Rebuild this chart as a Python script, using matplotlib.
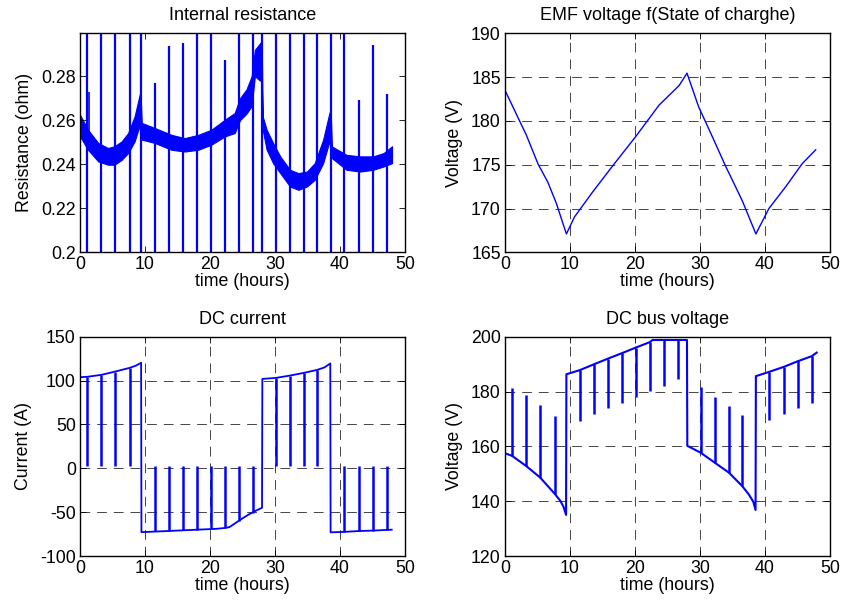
"""
Battery test overview: resistance, EMF, current and bus voltage over 48 h
"""

import matplotlib
matplotlib.use('Agg')
import matplotlib.pyplot as plt
from matplotlib.ticker import FormatStrFormatter

plt.rcParams['font.family'] = ['Liberation Sans', 'DejaVu Sans']
plt.rcParams['font.size'] = 12.8
plt.rcParams['axes.titlesize'] = 13
plt.rcParams['lines.scale_dashes'] = False

BLUE = '#0000ff'

# --- internal resistance: edges of the noisy band, plus the spikes
res_t = [0, 1.2, 2.8, 4.3, 5.3, 6.4, 7.4, 8.4, 9.3, 9.5, 11.5, 14.05, 16.1,
         18.2, 20.2, 22.3, 23.8, 24.6, 25.6, 26.4, 26.9, 27.7, 27.95, 28.1,
         28.7, 29.7, 30.8, 32.3, 33.6, 34.9, 36.1, 37.4, 38.3, 38.55, 38.75,
         41.0, 43.1, 45.1, 46.7, 48.0]
res_lo = [0.2527, 0.2467, 0.2413, 0.2398, 0.2398, 0.2420, 0.2451, 0.2504,
          0.2588, 0.2512, 0.2497, 0.2466, 0.2458, 0.2466, 0.2489, 0.2527,
          0.2542, 0.2600, 0.2630, 0.2664, 0.2800, 0.2780, 0.2800, 0.2558,
          0.2467, 0.2405, 0.2360, 0.2299, 0.2284, 0.2299, 0.2329, 0.2405,
          0.2497, 0.2520, 0.2428, 0.2375, 0.2367, 0.2375, 0.2390, 0.2405]
res_hi = [0.2625, 0.2558, 0.2497, 0.2474, 0.2482, 0.2504, 0.2542, 0.2618,
          0.2732, 0.2588, 0.2565, 0.2534, 0.2519, 0.2534, 0.2557, 0.2603,
          0.2633, 0.2700, 0.2740, 0.2800, 0.2920, 0.2950, 0.2960, 0.2618,
          0.2558, 0.2497, 0.2436, 0.2375, 0.2360, 0.2367, 0.2405, 0.2512,
          0.2625, 0.2650, 0.2481, 0.2443, 0.2436, 0.2436, 0.2451, 0.2482]
res_spike_t = [1.12, 3.28, 5.43, 7.65, 9.43, 11.5, 13.65, 15.85, 18.0, 20.1,
               22.26, 24.46, 26.66, 28.0, 30.1, 32.3, 34.46, 36.5, 38.6,
               40.67, 42.9, 45.1, 47.2]
res_spike_top = [0.31, 0.31, 0.31, 0.31, 0.31, 0.277, 0.2937, 0.295, 0.31,
                 0.31, 0.2876, 0.31, 0.31, 0.31, 0.31, 0.31, 0.31, 0.31, 0.31,
                 0.31, 0.2694, 0.294, 0.272]
res_blip_t = [1.35]
res_blip_lo = [0.252]
res_blip_hi = [0.273]

# --- EMF voltage
emf_t = [0, 3.28, 5.08, 6.6, 7.9, 9.45, 10.7, 13.5, 16.6, 20.1, 23.7, 26.8,
         28.0, 29.8, 31.9, 33.9, 36.5, 38.6, 40.6, 43.2, 45.7, 47.8]
emf_v = [183.5, 178.4, 175.1, 173.0, 170.6, 167.1, 169.05, 171.9, 174.9,
         178.2, 181.8, 184.05, 185.45, 181.6, 178.2, 174.9, 170.9, 167.1,
         170.0, 172.5, 175.1, 176.7]

# --- switching events (hours) where the current is cut for a moment
spike_t = [1.12, 3.28, 5.43, 7.65, 11.5, 13.65, 15.85, 18.0, 20.1, 22.26,
           24.46, 26.66, 30.1, 32.3, 34.46, 36.5, 40.67, 42.9, 45.1, 47.2]

# --- DC current
cur_t = [0, 1.12, 3.28, 5.43, 7.65, 8.6, 9.4, 9.45, 12, 15, 18, 21, 22.3, 23,
         24, 25, 26, 27, 28.0, 28.05, 30.1, 32.3, 34.46, 36.5, 37.6, 38.5,
         38.55, 40.67, 42.9, 45.1, 47.95]
cur_i = [103.8, 104.3, 106.5, 110.3, 114.5, 117, 120.3, -72.8, -72, -71, -70,
         -69, -68, -67, -62, -57, -52.5, -48.5, -45, 101.9, 103, 105.7, 108.8,
         112.2, 115, 119.5, -73, -72.5, -71.5, -71, -70]
cur_spike_base = [104.3, 106.5, 110.3, 114.5, -72, -71.4, -70.8, -70.1, -69.6,
                  -68, -60, -50.5, 103, 105.7, 108.8, 112.2, -72.5, -71.5,
                  -71, -70.2]
cur_spike_tip = [3, 3, 3, 3, 3, 3, 3, 3, 3, 3, 3, 3, 3, 3, 3, 3, 3, 3, 3, 3]

# --- DC bus voltage
vb_t = [0, 1.12, 3.28, 5.43, 7.65, 8.5, 9.0, 9.4, 9.45, 11.5, 13.65, 15.85,
        18.0, 20.1, 22.26, 22.7, 28.0, 28.05, 30.1, 32.3, 34.46, 36.5, 37.5,
        38.2, 38.55, 38.6, 40.67, 42.9, 45.1, 47.2, 47.95]
vb_v = [157.5, 156.5, 152.8, 148.6, 142.7, 140.2, 138.0, 135.0, 186.3, 187.8,
        189.9, 192.0, 194.0, 196.0, 198.0, 198.8, 198.8, 160.2, 157.7, 154.0,
        150.4, 145.5, 142.5, 139.8, 136.8, 185.6, 187.2, 189.0, 191.1, 192.9,
        194.2]
vb_spike_base = [156.5, 152.8, 148.6, 142.7, 187.8, 189.9, 192.0, 194.0,
                 196.0, 198.0, 198.8, 198.8, 157.7, 154.0, 150.4, 145.5,
                 187.2, 189.0, 191.1, 192.9]
vb_spike_tip = [181.4, 178.6, 175.1, 171.1, 169.2, 171.7, 174.1, 175.9,
                178.0, 180.2, 182.0, 184.4, 181.6, 178.1, 174.9, 171.3,
                169.5, 171.9, 174.1, 175.9]

x_ticks = [0, 10, 20, 30, 40, 50]


def style_axes(ax, title, ylabel, ylim, yticks, grid=True, fmt='%g'):
    """
    matlab-like look: boxed axes, inward ticks on all sides, dashed grid
    """
    ax.set_xlim(0, 50)
    ax.set_ylim(*ylim)
    ax.set_xticks(x_ticks)
    ax.set_yticks(yticks)
    ax.yaxis.set_major_formatter(FormatStrFormatter(fmt))
    ax.set_title(title, pad=9.5)
    ax.set_xlabel('time (hours)', labelpad=0)
    ax.set_ylabel(ylabel, labelpad=6)
    ax.tick_params(direction='in', length=4, width=0.6, top=True, right=True,
                   pad=3)
    for sp in ax.spines.values():
        sp.set_linewidth(1.0)
    if grid:
        ax.grid(True, color='0.15', linewidth=0.6, linestyle=(0, (7, 5)))


fig = plt.figure(figsize=(8.44, 6.07), dpi=100)
ax1 = fig.add_axes([0.0948, 0.5843, 0.3851, 0.3608])
ax2 = fig.add_axes([0.5983, 0.5843, 0.3851, 0.3608])
ax3 = fig.add_axes([0.0948, 0.0840, 0.3851, 0.3613])
ax4 = fig.add_axes([0.5983, 0.0840, 0.3851, 0.3613])

# internal resistance
ax1.fill_between(res_t, res_lo, res_hi, color=BLUE, linewidth=0.8)
ax1.vlines(res_spike_t, 0.19, res_spike_top, color=BLUE, linewidth=1.6)
ax1.vlines(res_blip_t, res_blip_lo, res_blip_hi, color=BLUE, linewidth=1.2)
style_axes(ax1, 'Internal resistance', 'Resistance (ohm)', (0.2, 0.2995),
           [0.2, 0.22, 0.24, 0.26, 0.28], grid=False)

# EMF
ax2.plot(emf_t, emf_v, color=BLUE, linewidth=1.0)
style_axes(ax2, 'EMF voltage f(State of charghe)', 'Voltage (V)', (165, 190),
           [165, 170, 175, 180, 185, 190])

# DC current
ax3.plot(cur_t, cur_i, color=BLUE, linewidth=1.3)
ax3.vlines(spike_t, cur_spike_base, cur_spike_tip, color=BLUE, linewidth=1.8)
style_axes(ax3, 'DC current', 'Current (A)', (-100, 150),
           [-100, -50, 0, 50, 100, 150])

# DC bus voltage
ax4.plot(vb_t, vb_v, color=BLUE, linewidth=1.5)
ax4.vlines(spike_t, vb_spike_base, vb_spike_tip, color=BLUE, linewidth=1.8)
style_axes(ax4, 'DC bus voltage', 'Voltage (V)', (120, 200),
           [120, 140, 160, 180, 200])

fig.savefig('out.png', dpi=100)
